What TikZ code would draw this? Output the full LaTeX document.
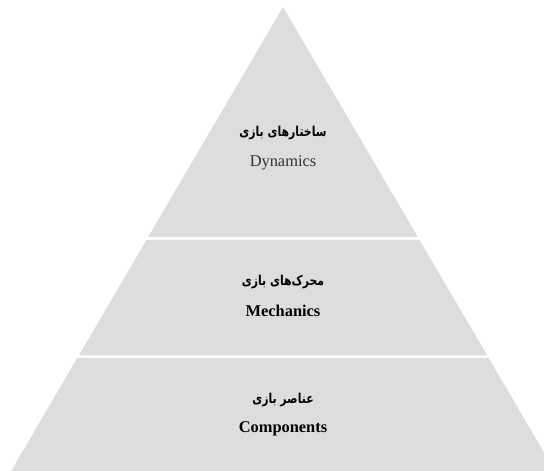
\documentclass[tikz,border=0pt]{standalone}
\usepackage{fontspec}
\setmainfont{Liberation Serif}
\newfontfamily\arabicfont[Script=Arabic,BoldFont={DejaVu Sans Bold},FakeStretch=0.8]{DejaVu Sans}
\TeXXeTstate=1
\begin{document}
\begin{tikzpicture}[x=1pt,y=1pt,
  tier/.style={fill=tiergray,draw=none},
  fa/.style={font=\arabicfont\bfseries\fontsize{13.6}{15}\selectfont},
  en/.style={font=\fontsize{16.4}{19}\selectfont}]
\definecolor{tiergray}{RGB}{221,221,221}
\useasboundingbox (0,0) rectangle (544,471);
\clip (0,0) rectangle (544,471);
% image y -> tikz y = 471 - y
\coordinate (apex) at (283,464);
\path[tier] (apex) -- (417.8,234) -- (148.2,234) -- cycle;
\path[tier] (146.5,231) -- (419.5,231) -- (487.2,115.5) -- (78.8,115.5) -- cycle;
\path[tier] (77.3,113) -- (488.7,113) -- (555.5,-1) -- (10.5,-1) -- cycle;
\node[fa] (t1) at (283,338) {\beginR ساختارهای بازی\endR};
\node[en,text=black!80] (e1) at (283,308) {Dynamics};
\node[fa] (t2) at (283,189) {\beginR محرک‌های بازی\endR};
\node[en,font=\fontsize{16.4}{19}\selectfont\bfseries] (e2) at (283,160) {Mechanics};
\node[fa] (t3) at (283,71) {\beginR عناصر بازی\endR};
\node[en,font=\fontsize{16.4}{19}\selectfont\bfseries] (e3) at (283,42) {Components};
\end{tikzpicture}
\end{document}
